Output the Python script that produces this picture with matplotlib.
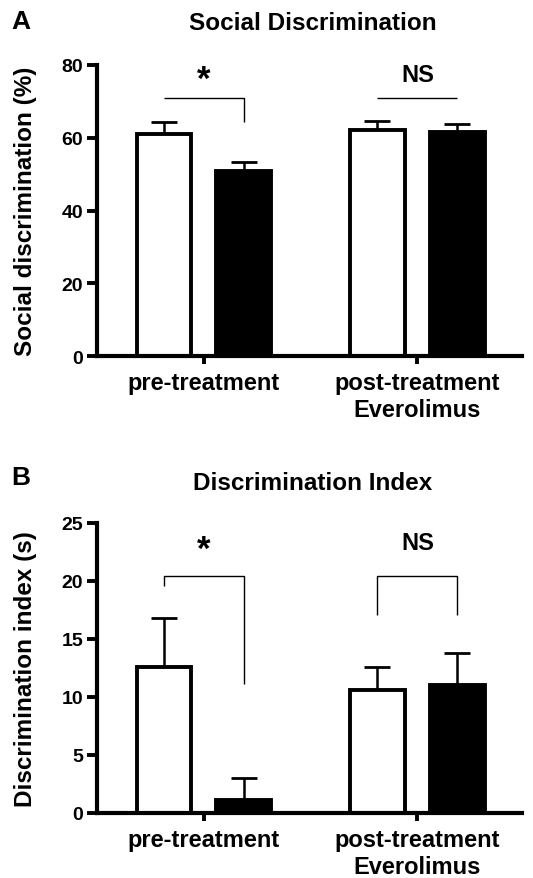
import matplotlib
matplotlib.use("Agg")
import matplotlib.pyplot as plt
import numpy as np

plt.rcParams['font.family'] = ['Liberation Sans', 'DejaVu Sans']
plt.rcParams['font.weight'] = 'bold'

groups = ["pre-treatment", "post-treatment\nEverolimus"]

# Panel A: Social discrimination (%)
a_white = [61.0, 62.2]
a_white_err = [3.4, 2.5]
a_black = [50.9, 61.6]
a_black_err = [2.5, 2.1]

# Panel B: Discrimination index (s)
b_white = [12.6, 10.6]
b_white_err = [4.2, 2.0]
b_black = [1.1, 11.0]
b_black_err = [1.9, 2.8]

W, H = 533, 879
fig = plt.figure(figsize=(W / 100, H / 100), dpi=100)


def px_axes(left, top, right, bottom):
    return fig.add_axes([left / W, 1 - bottom / H, (right - left) / W, (bottom - top) / H])


def draw_panel(ax, white, white_err, black, black_err, ymax, ystep, ylabel, brackets):
    x = np.arange(len(groups))
    off = 0.187
    bw = 0.255
    ax.bar(x - off, white, bw, color='white', edgecolor='black', linewidth=2.8, zorder=2)
    ax.bar(x + off, black, bw, color='black', edgecolor='black', linewidth=2.8, zorder=2)
    ax.errorbar(x - off, white, yerr=[np.zeros(len(white)), white_err], fmt='none',
                ecolor='black', elinewidth=1.8, capsize=9.5, capthick=2.0, zorder=1)
    ax.errorbar(x + off, black, yerr=[np.zeros(len(black)), black_err], fmt='none',
                ecolor='black', elinewidth=1.8, capsize=9.5, capthick=2.0, zorder=1)
    for (xi, top, ld, rd, txt, ty) in brackets:
        x0, x1 = xi - off, xi + off
        ax.plot([x0, x0, x1, x1], [ld, top, top, rd], color='black', lw=1.0,
                solid_capstyle='butt', clip_on=False)
        ax.text(xi, ty, txt, ha='center', va='center', fontsize=17 if txt == 'NS' else 25,
                fontweight='bold')
    ax.set_xlim(-0.5, 1.49)
    ax.set_ylim(0, ymax)
    ax.set_yticks(np.arange(0, ymax + 0.01, ystep))
    ax.set_xticks(x)
    ax.set_xticklabels(groups, fontsize=17, fontweight='bold', linespacing=1.18)
    ax.tick_params(axis='y', labelsize=14, width=2.8, length=7, pad=3)
    ax.tick_params(axis='x', width=2.8, length=6, pad=5)
    for s in ['top', 'right']:
        ax.spines[s].set_visible(False)
    for s in ['left', 'bottom']:
        ax.spines[s].set_linewidth(3.0)
    ax.set_ylabel(ylabel, fontsize=17.5, fontweight='bold')
    ax.yaxis.set_label_coords(-0.142, 0.5)
    return ax


axA = px_axes(97, 66, 522, 357)
draw_panel(axA, a_white, a_white_err, a_black, a_black_err, 80, 20,
           "Social discrimination (%)",
           [(0, 70.9, 70.9, 64.3, '*', 76.0), (1, 70.9, 70.9, 70.9, 'NS', 77.5)])
axB = px_axes(97, 524, 522, 814)
draw_panel(axB, b_white, b_white_err, b_black, b_black_err, 25, 5,
           "Discrimination index (s)",
           [(0, 20.45, 19.6, 11.1, '*', 22.7), (1, 20.45, 17.1, 17.1, 'NS', 23.3)])

fig.text(313 / W, 1 - 24 / H, "Social Discrimination", ha='center', va='center',
         fontsize=17.5, fontweight='bold')
fig.text(313 / W, 1 - 484 / H, "Discrimination Index", ha='center', va='center',
         fontsize=17.5, fontweight='bold')
fig.text(21 / W, 1 - 22 / H, "A", ha='center', va='center', fontsize=19, fontweight='bold')
fig.text(21 / W, 1 - 478 / H, "B", ha='center', va='center', fontsize=19, fontweight='bold')

fig.savefig("out.png", dpi=100)
